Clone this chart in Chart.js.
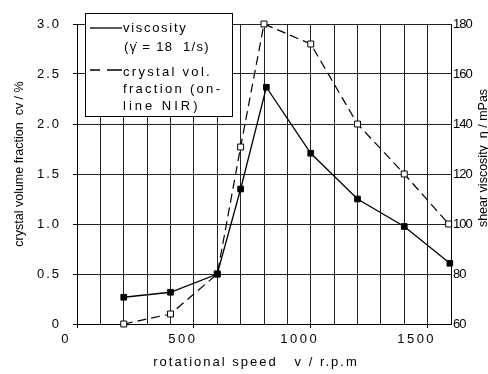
<!DOCTYPE html>
<html>
<head>
<meta charset="utf-8">
<script src="https://cdn.jsdelivr.net/npm/chart.js@4.4.1/dist/chart.umd.min.js"></script>
<style>
  html, body { margin: 0; padding: 0; background: #fff; }
  #c { display: block; }
</style>
</head>
<body>
<canvas id="c" width="488" height="374"></canvas>
<script>
// data
const speedCv = [200, 400, 600, 700, 800, 1000, 1200, 1400, 1590];
const cvValues = [0.0, 0.1, 0.5, 1.77, 3.0, 2.8, 2.0, 1.5, 1.0];
const speedVisc = [200, 400, 600, 700, 810, 1000, 1200, 1400, 1595];
const viscValues = [70.7, 72.7, 80, 114, 154.7, 128.3, 110, 99, 84.3];

const xTitle = 'rotational speed   v / r.p.m';
const yTitle = 'crystal volume fraction  cv / %';
const y1Title = 'shear viscosity  \u03b7 / mPas';
const legendSolid = ['viscosity', '(\u03b3\u0307 = 18  1/s)'];
const legendDashed = ['crystal vol.', 'fraction (on-', 'line NIR)'];

const FONT = "'Liberation Sans', Arial, sans-serif";
const GRID = '#222';

// letter spacing for tick labels (the scanned figure uses spaced type)
const spacedTicks = {
    id: 'spacedTicks',
    beforeDraw(chart) {
        const spacing = { x: '2.5px', y: '2px', y1: '-1px' };
        Object.keys(spacing).forEach(function(id) {
            const s = chart.scales[id];
            if (s && !s._spaced) {
                const orig = s.drawLabels;
                s.drawLabels = function(area) {
                    this.ctx.save();
                    this.ctx.letterSpacing = spacing[id];
                    orig.call(this, area);
                    this.ctx.restore();
                };
                s._spaced = true;
            }
        });
    }
};

// axis titles and boxed legend
const extras = {
    id: 'extras',
    afterDraw(chart) {
        const ctx = chart.ctx;
        ctx.save();
        ctx.fillStyle = '#000';
        ctx.textBaseline = 'middle';

        ctx.font = '13px ' + FONT;
        ctx.letterSpacing = '2px';
        ctx.textAlign = 'center';
        ctx.fillText(xTitle, 256, 362);

        ctx.letterSpacing = '0px';
        ctx.font = '12.5px ' + FONT;
        ctx.save();
        ctx.translate(20, 164);
        ctx.rotate(-Math.PI / 2);
        ctx.fillText(yTitle, 0, 0);
        ctx.restore();
        ctx.save();
        ctx.translate(484, 158);
        ctx.rotate(-Math.PI / 2);
        ctx.fillText(y1Title, 0, 0);
        ctx.restore();

        // legend box
        ctx.fillStyle = '#fff';
        ctx.fillRect(86, 13, 147, 103);
        ctx.strokeStyle = '#000';
        ctx.lineWidth = 1;
        ctx.strokeRect(85.5, 13.5, 147, 103);

        ctx.lineWidth = 1.3;
        ctx.beginPath();
        ctx.moveTo(90, 28);
        ctx.lineTo(122, 28);
        ctx.stroke();
        ctx.beginPath();
        ctx.moveTo(90, 70);
        ctx.lineTo(100, 70);
        ctx.moveTo(107, 70);
        ctx.lineTo(122, 70);
        ctx.stroke();

        ctx.fillStyle = '#000';
        ctx.textAlign = 'left';
        ctx.font = '13px ' + FONT;
        ctx.letterSpacing = '1.7px';
        ctx.fillText(legendSolid[0], 123, 28);
        ctx.letterSpacing = '1.3px';
        ctx.fillText(legendSolid[1], 124, 47);
        ctx.letterSpacing = '2.3px';
        ctx.fillText(legendDashed[0], 123, 72);
        ctx.fillText(legendDashed[1], 123, 89);
        ctx.letterSpacing = '3px';
        ctx.fillText(legendDashed[2], 123, 106);
        ctx.restore();
    }
};

const tickFont = { family: FONT, size: 13 };

new Chart(document.getElementById('c'), {
    type: 'line',
    data: {
        datasets: [{
            label: 'viscosity',
            data: speedVisc.map((v, i) => ({ x: v, y: viscValues[i] })),
            yAxisID: 'y1',
            borderColor: '#000',
            borderWidth: 1.3,
            pointStyle: 'rect',
            pointRadius: 4,
            pointBackgroundColor: '#000',
            pointBorderColor: '#000',
            pointBorderWidth: 1,
            clip: false
        }, {
            label: 'crystal vol. fraction',
            data: speedCv.map((v, i) => ({ x: v, y: cvValues[i] })),
            yAxisID: 'y',
            borderColor: '#000',
            borderWidth: 1.2,
            borderDash: [9, 5],
            pointStyle: 'rect',
            pointRadius: 4.2,
            pointBackgroundColor: '#fff',
            pointBorderColor: '#000',
            pointBorderWidth: 1,
            clip: false
        }]
    },
    options: {
        responsive: false,
        animation: false,
        layout: { padding: { top: 24, left: 0, right: 0, bottom: 0 } },
        plugins: {
            legend: { display: false },
            tooltip: { enabled: false }
        },
        scales: {
            x: {
                type: 'linear',
                min: 0,
                max: 1600,
                afterFit: function(s) { s.height = 50; },
                ticks: {
                    stepSize: 100,
                    autoSkip: false,
                    maxRotation: 0,
                    minRotation: 0,
                    labelOffset: -11,
                    padding: 4,
                    color: '#000',
                    font: tickFont,
                    callback: v => (v % 500 === 0 ? String(v) : '')
                },
                grid: {
                    color: GRID,
                    lineWidth: 1,
                    tickLength: 4,
                    tickColor: c => (c.tick && c.tick.value % 500 === 0 ? '#000' : 'rgba(0,0,0,0)')
                },
                border: { color: '#000' }
            },
            y: {
                position: 'left',
                min: 0,
                max: 3,
                afterFit: function(s) { s.width = 77; },
                ticks: {
                    stepSize: 0.5,
                    padding: 12,
                    color: '#000',
                    font: tickFont,
                    callback: v => (v === 0 ? '0' : v.toFixed(1))
                },
                grid: { color: GRID, lineWidth: 1, tickLength: 4, tickColor: '#000' },
                border: { color: '#000' }
            },
            y1: {
                position: 'right',
                min: 60,
                max: 180,
                afterFit: function(s) { s.width = 37; },
                ticks: {
                    stepSize: 20,
                    padding: 2,
                    color: '#000',
                    font: tickFont
                },
                grid: { display: false, drawTicks: false },
                border: { color: '#000' }
            }
        }
    },
    plugins: [spacedTicks, extras]
});
</script>
</body>
</html>
